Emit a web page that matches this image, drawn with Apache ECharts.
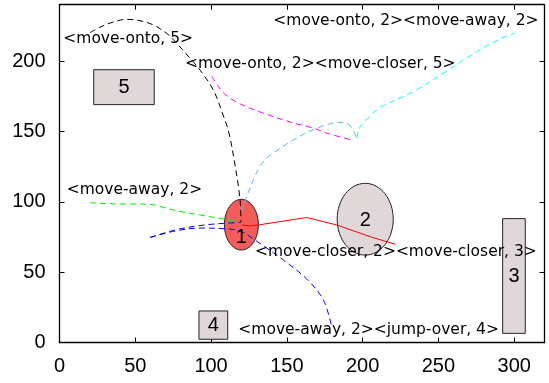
<!DOCTYPE html>
<html>
<head>
<meta charset="utf-8">
<script src="https://cdn.jsdelivr.net/npm/echarts@6/dist/echarts.min.js"></script>
<style>
  html, body { margin: 0; padding: 0; background: #fff; }
  #chart { width: 549px; height: 383px; }
</style>
</head>
<body>
<div id="chart"></div>
<script>
// Axis extents and tick steps
const xRange = [0, 320];
const yRange = [0, 240];
const tickStep = 50;

// Rectangular objects: [x0, y0, x1, y1, label]
const boxes = [
  [22.6, 169.0, 62.5, 193.8, '5'],
  [92.0, 2.3, 111.0, 22.4, '4'],
  [292.4, 6.5, 307.3, 88.0, '3']
];

// Elliptical objects: [cx, cy, rx, ry, label]
const blobs = [
  [120.0, 83.7, 11.2, 18.0, '1'],
  [201.7, 87.6, 18.5, 25.5, '2']
];

// Trajectories (x, y pairs)
const pathOnto5 = [
  [20.1, 220.1], [26.7, 224.0], [35.5, 227.7], [44.3, 229.6], [53.1, 228.6],
  [61.9, 225.6], [70.7, 219.7], [77.3, 212.6], [86.0, 202.1], [92.7, 193.6],
  [101.5, 179.4], [107.2, 163.8], [111.8, 148.8], [115.8, 126.0], [118.1, 110.5],
  [119.4, 97.7], [119.7, 85.6]
];
const pathCloser5 = [
  [100.4, 189.3], [104.3, 182.6], [109.0, 176.6], [114.5, 172.2], [121.0, 168.6],
  [132.3, 163.8], [154.1, 156.0], [167.3, 152.4], [176.3, 148.8], [193.9, 143.5]
];
const pathOnto2 = [
  [120.0, 92.7], [123.5, 103.6], [127.9, 115.5], [132.3, 125.4], [136.7, 131.1],
  [141.1, 134.6], [154.3, 143.9], [169.7, 152.2], [185.1, 156.4], [190.4, 155.2],
  [193.7, 151.0], [196.1, 145.1]
];
const pathAway2Top = [
  [196.1, 145.1], [198.3, 153.1], [204.9, 160.9], [211.5, 167.0], [233.4, 178.2],
  [253.2, 191.3], [275.3, 206.6], [290.6, 215.6], [300.5, 219.7]
];
const pathAway2Left = [
  [20.1, 99.3], [30.0, 98.8], [39.9, 98.4], [49.8, 98.4], [59.7, 98.2],
  [67.6, 96.3], [75.1, 94.1], [92.7, 90.6], [114.7, 86.5], [119.1, 86.0]
];
const pathBlueIn = [
  [59.7, 74.6], [76.2, 79.9], [92.7, 83.1], [105.9, 84.5], [119.8, 85.3]
];
const pathBlueOut = [
  [59.7, 74.6], [76.2, 79.2], [92.7, 81.3], [105.9, 81.0], [119.1, 79.2],
  [128.9, 72.8], [138.9, 65.4], [147.7, 58.6], [163.1, 45.1], [174.1, 30.2],
  [179.6, 11.2]
];
const pathCloser3 = [
  [120.2, 83.5], [125.7, 82.8], [131.2, 83.5], [163.1, 88.8], [182.9, 83.5],
  [204.9, 75.2], [221.4, 69.8]
];

// Action annotations: [x, y, text] (left edge, vertical middle)
const notes = [
  [2.5, 215.4, '<move-onto, 5>'],
  [82.8, 197.9, '<move-onto, 2><move-closer, 5>'],
  [141.1, 228.6, '<move-onto, 2><move-away, 2>'],
  [4.75, 108.3, '<move-away, 2>'],
  [129.0, 64.5, '<move-closer, 2><move-closer, 3>'],
  [118.0, 8.9, '<move-away, 2><jump-over, 4>']
];

const tickFont = { fontFamily: 'Liberation Sans', fontSize: 20, color: '#000' };
const onTick = v => (v % tickStep === 0 ? String(v) : '');

function axisX(pos, labels) {
  return {
    type: 'value', position: pos, min: xRange[0], max: xRange[1], interval: tickStep,
    axisLine: { show: true, onZero: false, lineStyle: { color: '#000', width: 1.3 } },
    axisTick: { show: true, inside: true, length: 5, lineStyle: { color: '#000', width: 1 } },
    axisLabel: labels ? Object.assign({ show: true, margin: 13.5, formatter: onTick }, tickFont) : { show: false },
    splitLine: { show: false }
  };
}
function axisY(pos, labels) {
  return {
    type: 'value', position: pos, min: yRange[0], max: yRange[1], interval: tickStep,
    axisLine: { show: true, onZero: false, lineStyle: { color: '#000', width: 1.3 } },
    axisTick: { show: true, inside: true, length: 5, lineStyle: { color: '#000', width: 1 } },
    axisLabel: labels ? Object.assign({ show: true, margin: 14, padding: [3, 0, 0, 0], formatter: onTick }, tickFont) : { show: false },
    splitLine: { show: false }
  };
}

function trail(data, color, solid, smooth) {
  return {
    type: 'line', data: data, smooth: smooth === undefined ? 0.35 : smooth, symbol: 'none', z: 3,
    lineStyle: { color: color, width: 1, type: solid ? 'solid' : [6, 4] },
    silent: true, animation: false
  };
}

const chart = echarts.init(document.getElementById('chart'), null, { renderer: 'canvas' });

chart.setOption({
  animation: false,
  backgroundColor: '#fff',
  grid: { left: 59.5, right: 4.5, top: 4.7, bottom: 40.5, containLabel: false },
  xAxis: [axisX('bottom', true), axisX('top', false)],
  yAxis: [axisY('left', true), axisY('right', false)],
  series: [
    {
      type: 'custom', z: 2, silent: true,
      data: boxes,
      renderItem: function (params, api) {
        const a = api.coord([api.value(0), api.value(3)]);
        const b = api.coord([api.value(2), api.value(1)]);
        return {
          type: 'rect',
          shape: { x: a[0], y: a[1], width: b[0] - a[0], height: b[1] - a[1] },
          style: { fill: '#e0d8d8', stroke: '#222', lineWidth: 1 }
        };
      }
    },
    {
      type: 'custom', z: 2, silent: true,
      data: blobs,
      renderItem: function (params, api) {
        const c = api.coord([api.value(0), api.value(1)]);
        const s = api.size([api.value(2), api.value(3)]);
        return {
          type: 'ellipse',
          shape: { cx: c[0], cy: c[1], rx: s[0], ry: s[1] },
          style: {
            fill: params.dataIndex === 0 ? '#f65d58' : '#e0d8d8',
            stroke: '#222', lineWidth: 1
          }
        };
      }
    },
    trail(pathOnto5, '#000000'),
    trail(pathCloser5, '#ff00ff'),
    trail(pathOnto2, '#55bbff'),
    trail(pathAway2Top, '#00ffff'),
    trail(pathAway2Left, '#00ee00'),
    trail(pathBlueIn, '#0000ff'),
    trail(pathBlueOut, '#0000ff'),
    trail(pathCloser3, '#ff0000', true, false),
    {
      // object numbers inside each shape
      type: 'custom', z: 5, silent: true,
      data: boxes.map(r => [(r[0] + r[2]) / 2, (r[1] + r[3]) / 2, r[4]])
        .concat(blobs.map((e, i) => [e[0], e[1] - (i === 0 ? 9 : 1), e[4]])),
      renderItem: function (params, api) {
        const p = api.coord([api.value(0), api.value(1)]);
        return {
          type: 'text', x: p[0], y: p[1],
          style: {
            text: String(api.value(2)), fill: '#000',
            font: '20px "Liberation Sans"', align: 'center', verticalAlign: 'middle'
          }
        };
      }
    },
    {
      // action annotations
      type: 'custom', z: 6, silent: true,
      data: notes,
      renderItem: function (params, api) {
        const p = api.coord([api.value(0), api.value(1)]);
        return {
          type: 'text', x: p[0], y: p[1],
          style: {
            text: String(api.value(2)), fill: '#000',
            font: '15.5px "DejaVu Sans"', align: 'left', verticalAlign: 'middle'
          }
        };
      }
    }
  ]
});
</script>
</body>
</html>
